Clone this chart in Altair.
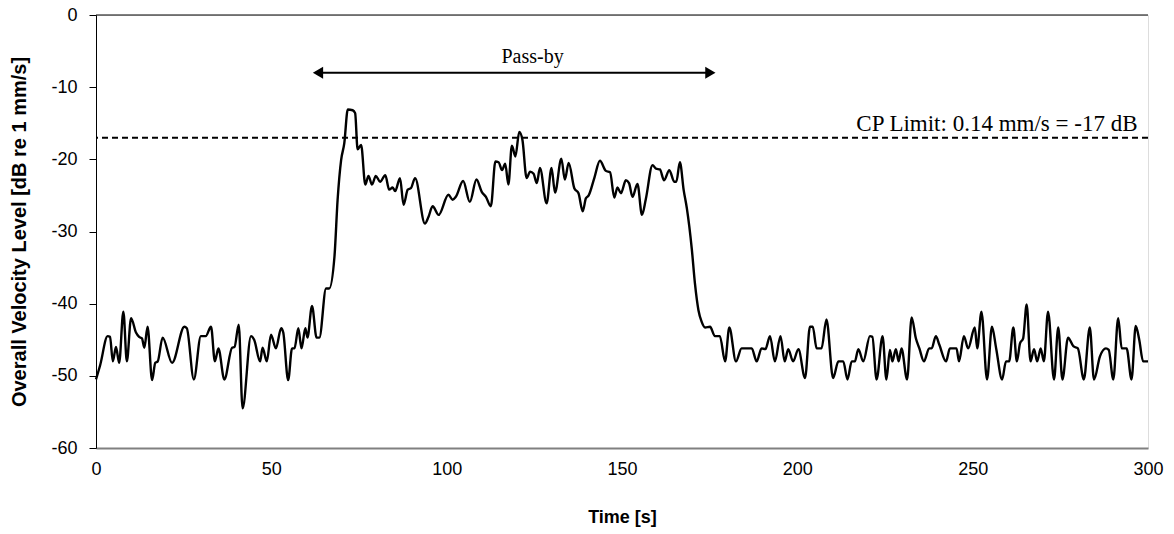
import altair as alt
import pandas as pd

# ---- data ----
time_s = [
    0, 1.2, 3.3, 4.0, 4.8, 5.7, 6.6, 7.8, 8.8, 10.0,
    11.4, 12.3, 13.1, 13.8, 14.7, 16.0, 16.9, 17.6, 19.0, 21.7,
    25.2, 25.9, 27.9, 29.9, 31.3, 32.8, 33.9, 34.9, 36.6, 38.8,
    39.5, 40.7, 41.8, 44.2, 45.1, 46.8, 47.5, 48.7, 49.9, 51.3,
    52.8, 53.4, 54.8, 55.9, 56.6, 57.7, 58.6, 59.7, 60.3, 61.6,
    62.9, 63.7, 65.6, 66.5, 68.0, 68.9, 69.9, 70.8, 71.8, 73.2,
    73.9, 74.6, 75.6, 76.8, 77.7, 78.7, 79.8, 81.0, 82.5, 83.6,
    84.6, 85.3, 86.7, 87.7, 88.9, 89.8, 91.0, 93.8, 94.8, 96.0,
    97.7, 100.5, 101.7, 102.6, 104.7, 106.6, 108.5, 110.0, 111.2, 112.6,
    113.9, 114.8, 115.8, 116.7, 117.6, 118.6, 119.6, 120.7, 121.6, 122.8,
    123.8, 124.8, 125.7, 126.6, 128.5, 129.9, 130.9, 132.7, 133.7, 134.8,
    136.4, 137.6, 138.8, 139.7, 140.5, 142.1, 143.7, 145.4, 146.6, 147.8,
    148.7, 149.7, 151.1, 152.0, 153.0, 154.4, 155.7, 156.8, 158.7, 159.7,
    160.8, 162.0, 163.5, 164.9, 165.5, 166.5, 167.6, 168.5, 169.9, 170.8,
    171.8, 172.7, 173.7, 175.1, 176.5, 177.9, 179.4, 180.6, 182.5, 184.1,
    187.0, 188.4, 189.8, 190.9, 192.2, 193.6, 195.2, 196.4, 197.4, 198.8,
    200.3, 202.2, 203.6, 204.4, 205.5, 206.9, 208.3, 210.2, 211.7, 213.1,
    214.3, 215.5, 216.4, 217.4, 218.8, 220.7, 221.4, 222.6, 224.3, 225.4,
    226.4, 227.1, 228.1, 228.9, 229.7, 231.3, 232.6, 233.8, 234.8, 236.1,
    237.6, 238.3, 239.5, 240.5, 242.4, 243.5, 245.4, 246.1, 247.5, 248.7,
    250.6, 251.3, 252.5, 254.1, 255.5, 256.7, 258.4, 259.5, 260.4, 261.6,
    262.6, 263.5, 264.4, 265.4, 266.5, 267.5, 268.4, 269.4, 270.3, 271.5,
    273.2, 274.4, 275.6, 277.2, 278.7, 280.0, 281.7, 283.4, 284.6, 286.3,
    288.0, 288.8, 290.1, 291.5, 292.5, 293.9, 295.3, 296.5, 297.5, 298.6,
    300.0,
]
level_db = [
    -50.5, -48.5, -44.5, -44.6, -48, -46, -48.2, -41.1, -48, -42,
    -44, -44.6, -44.8, -46.1, -43.2, -50.6, -48.2, -48, -44.7, -48.2,
    -43.2, -43.4, -50.5, -44.5, -44.5, -43.2, -48, -46.2, -50.5, -46.1,
    -46, -42.9, -54.5, -44.5, -45, -48, -46.1, -48, -44.3, -46.2,
    -43.4, -44, -50.6, -46.2, -46.2, -43.4, -46.2, -43.4, -44.7, -40.3,
    -44.7, -44.7, -37.9, -37.9, -33.5, -25.6, -20.1, -17.8, -13.1, -13.2,
    -13.6, -18.6, -18, -23.5, -22.3, -23.5, -22.3, -23.1, -22.2, -24.2,
    -23.9, -24.4, -22.6, -26.3, -24.2, -24, -22.6, -28.9, -28, -26.5,
    -27.7, -24.9, -25.6, -25.2, -23, -25.9, -22.8, -24.5, -25.2, -26.5,
    -20.3, -20.4, -21.5, -20.6, -23.5, -18.1, -19.6, -16.2, -17.3, -22.6,
    -21.7, -22, -23.3, -21.2, -26.1, -21.2, -24.6, -19.9, -22.8, -20.5,
    -24, -24.7, -27.2, -25.4, -25, -22.6, -20.2, -21.6, -21.8, -25.3,
    -23.9, -24.7, -22.9, -23.3, -25.2, -23.4, -27.7, -25.5, -20.8, -21.3,
    -21.4, -22.9, -21.5, -23.1, -23.1, -20.4, -24.3, -26.8, -32.4, -37.2,
    -40.9, -42.5, -43.3, -43.2, -44.5, -44.5, -48, -43.3, -48, -46.2,
    -46.2, -48, -46.2, -46.3, -44.5, -48, -44.5, -48, -46.3, -48,
    -46.3, -50.3, -43.2, -43.2, -46.2, -46.2, -42.2, -50.3, -48, -48,
    -50.5, -48, -48, -46.3, -48, -44.5, -44.6, -50.5, -44.5, -50.5,
    -46.4, -48, -46.3, -48, -46.2, -50.5, -41.9, -44.8, -46.2, -48,
    -46.2, -46.2, -44.5, -45.7, -48, -46.2, -46.2, -48, -44.5, -46.2,
    -43.3, -46.2, -41.1, -50.5, -43.2, -46.2, -50.5, -48, -48, -43.3,
    -48, -45.5, -44.8, -40.1, -48, -46.3, -48, -46.2, -48, -41.1,
    -50.5, -43.3, -50.5, -44.7, -45.9, -46.2, -50.5, -43.3, -50.5, -47.3,
    -46.2, -46.4, -50.5, -42, -46.2, -46.2, -50.5, -43.1, -45, -48,
    -48,
]

limit_db = -17
limit_label = "CP Limit: 0.14 mm/s = -17 dB"
passby_start = 62
passby_end = 176.5
passby_level = -8
passby_label = "Pass-by"
passby_label_t = 124.5
x_ticks = [0, 50, 100, 150, 200, 250, 300]
y_ticks = [-60, -50, -40, -30, -20, -10, 0]

trace = pd.DataFrame({"t": time_s, "v": level_db})

xs = alt.Scale(domain=[0, 300], nice=False, zero=False)
ys = alt.Scale(domain=[-60, 0], nice=False, zero=False)

SANS = "Liberation Sans"
SERIF = "Liberation Serif"

x_axis = alt.Axis(values=x_ticks, title="Time [s]", labelFont=SANS, labelFontSize=18,
                  labelColor="#000", titleFont=SANS, titleFontSize=18, titleFontWeight="bold",
                  titleColor="#000", grid=False, ticks=False, labelPadding=12,
                  labelFlush=False, labelOverlap=False,
                  titlePadding=30, domainColor="#808080", domainWidth=2)
y_axis = alt.Axis(values=y_ticks, title="Overall Velocity Level [dB re 1 mm/s]",
                  labelFont=SANS, labelFontSize=18, labelColor="#000",
                  labelExpr="toString(datum.value)", labelFlush=False, labelOverlap=False,
                  titleFont=SANS, titleFontSize=20, titleFontWeight="bold", titleColor="#000",
                  grid=False, tickSize=7, tickColor="#000", labelPadding=12,
                  titlePadding=21, domainColor="#000", domainWidth=1)

line = alt.Chart(trace).mark_line(color="black", strokeWidth=2.4, interpolate="monotone").encode(
    x=alt.X("t:Q", scale=xs, axis=x_axis),
    y=alt.Y("v:Q", scale=ys, axis=y_axis),
)

limit_df = pd.DataFrame({"y": [limit_db]})
limit_rule = alt.Chart(limit_df).mark_rule(color="black", strokeWidth=2, strokeDash=[6, 4]).encode(
    y=alt.Y("y:Q", scale=ys),
)

limit_text = alt.Chart(pd.DataFrame({"x": [297], "y": [limit_db], "label": [limit_label]})).mark_text(
    font=SERIF, fontSize=23, align="right", baseline="bottom", dy=-2, color="black"
).encode(x=alt.X("x:Q", scale=xs), y=alt.Y("y:Q", scale=ys), text="label:N")

arrow_df = pd.DataFrame({"x": [passby_start + 2], "x2": [passby_end - 2], "y": [passby_level]})
arrow_line = alt.Chart(arrow_df).mark_rule(color="black", strokeWidth=2).encode(
    x=alt.X("x:Q", scale=xs), x2="x2:Q", y=alt.Y("y:Q", scale=ys)
)
heads_df = pd.DataFrame({"x": [passby_start + 1.3, passby_end - 1.3], "y": [passby_level, passby_level],
                         "shape": ["triangle-left", "triangle-right"]})
arrow_heads = alt.Chart(heads_df).mark_point(filled=True, color="black", opacity=1, size=140).encode(
    x=alt.X("x:Q", scale=xs), y=alt.Y("y:Q", scale=ys),
    shape=alt.Shape("shape:N", scale=None, legend=None),
)
passby_text = alt.Chart(pd.DataFrame({"x": [passby_label_t], "y": [passby_level],
                                      "label": [passby_label]})).mark_text(
    font=SERIF, fontSize=20, align="center", baseline="bottom", dy=-6, color="black"
).encode(x=alt.X("x:Q", scale=xs), y=alt.Y("y:Q", scale=ys), text="label:N")

top_df = pd.DataFrame({"y": [0]})
top_rule = alt.Chart(top_df).mark_rule(color="black", strokeWidth=1).encode(y=alt.Y("y:Q", scale=ys))

chart = alt.layer(limit_rule, line, arrow_line, arrow_heads, passby_text, limit_text, top_rule).properties(
    width=1052, height=433,
    autosize=alt.AutoSizeParams(type="none"),
    padding={"left": 96, "top": 15, "right": 26, "bottom": 86},
).configure_view(stroke="#808080", strokeWidth=2).configure(background="white")

chart.save("out.html", embed_options={"renderer": "svg", "actions": False})
